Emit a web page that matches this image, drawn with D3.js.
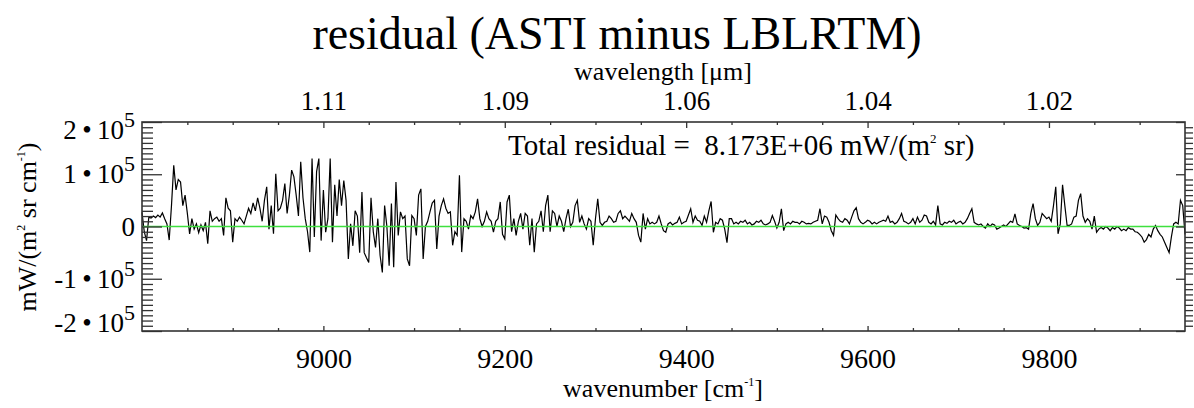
<!DOCTYPE html>
<html>
<head>
<meta charset="utf-8">
<script src="https://cdn.jsdelivr.net/npm/d3@7"></script>
<style>
body { margin: 0; background: #fff; }
</style>
</head>
<body>
<script>
// residual spectrum (ASTI minus LBLRTM), sampled every 2.5 cm-1 from 8800 cm-1
// values are in units of 1e3 mW/(m2 sr cm-1), read off the plot
const wnStart = 8800, wnStep = 2.5;
const residual = [
  27,-10,-27,18,16,20,17,22,18,26,15,5,-26,40,117,70,90,85,40,60,
  25,-14,15,-5,5,-12,3,-8,8,-33,30,10,15,18,10,15,-17,55,35,30,
  -30,15,10,18,12,5,20,35,25,45,30,55,35,10,50,76,-5,40,-14,101,
  30,35,50,82,25,60,108,95,60,20,124,55,15,-10,-49,130,-20,105,130,-27,
  70,-11,15,130,-30,80,20,90,40,88,50,-62,5,-37,30,20,-50,66,-50,-60,
  -69,55,-10,-40,15,-55,-88,40,0,-75,44,-78,85,-17,28,15,20,-62,-75,21,
  15,-17,60,72,-62,0,10,28,45,50,-43,20,40,53,35,25,28,-36,-10,-17,
  98,-49,15,10,-5,21,15,28,53,15,0,10,28,15,10,-11,10,15,47,-15,
  -24,47,60,-10,15,-17,10,25,-5,25,20,-36,15,-49,5,10,30,-10,40,60,
  -10,30,25,0,20,10,-10,15,33,0,8,40,50,8,20,5,-5,15,10,-36,
  15,53,8,2,8,10,20,15,8,10,25,30,15,20,15,10,25,15,8,-17,
  -30,25,-5,15,5,8,5,8,20,5,-8,-11,5,8,3,6,8,18,5,8,
  10,22,34,8,20,12,10,2,20,8,30,48,-11,8,5,15,12,-5,-31,15,
  15,5,8,5,10,8,12,5,8,3,5,10,8,12,5,3,5,8,21,10,
  -3,8,34,-8,5,8,5,10,8,8,5,10,8,5,6,5,8,10,12,34,
  5,20,18,8,-8,-17,22,15,10,8,15,12,5,18,30,36,15,8,5,8,
  12,10,5,8,5,8,10,12,10,20,8,10,5,8,15,25,10,8,5,8,
  15,5,18,8,12,22,20,8,5,10,3,40,5,3,8,6,10,8,12,5,
  8,10,5,8,15,25,34,8,5,3,5,0,-3,5,0,5,3,-5,-3,0,
  3,0,5,10,8,24,5,2,0,-3,-2,-5,25,44,15,2,8,25,20,15,
  18,10,40,76,-14,5,80,40,2,2,5,18,20,50,63,20,8,15,10,-5,
  20,-11,-5,-2,-5,0,-3,-8,-2,-5,0,-3,-8,-5,-8,-2,-5,-5,-10,-11,
  -15,-20,-30,-25,-15,-20,-5,2,-8,-15,-20,-30,-40,-50,-20,5,8,5,50,40,-15
];

const xTicks = [9000, 9200, 9400, 9600, 9800];
const xTickLabels = ["9000", "9200", "9400", "9600", "9800"];
const wlTickLabels = ["1.11", "1.09", "1.06", "1.04", "1.02"];
const yTicks = [-2e5, -1e5, 0, 1e5, 2e5];
const yTickBase = ["-2\u2009\u2022\u200910", "-1\u2009\u2022\u200910", "0", "1\u2009\u2022\u200910", "2\u2009\u2022\u200910"];
const yTickExp = ["5", "5", "", "5", "5"];
const totalResidual = "8.173E+06";

const width = 1194, height = 408;
const plotL = 142, plotR = 1185, plotT = 122, plotB = 331;
const serif = "'Liberation Serif', 'Times New Roman', Times, serif";

let svg = d3.select("body")
    .append("svg")
    .attr("width", width)
    .attr("height", height)
    .style("font-family", serif);

let x = d3.scaleLinear().domain([8800, 9950]).range([plotL, plotR]);
let y = d3.scaleLinear().domain([-2e5, 2e5]).range([plotB, plotT]);

let pts = residual.map((v, i) => [wnStart + i * wnStep, v * 1e3]);

// data
svg.append("path")
    .datum(pts)
    .attr("fill", "none")
    .attr("stroke", "#000")
    .attr("stroke-width", 1.2)
    .attr("d", d3.line().x(d => x(d[0])).y(d => y(d[1])));

// zero line
svg.append("line")
    .attr("x1", plotL).attr("x2", plotR)
    .attr("y1", y(0)).attr("y2", y(0))
    .attr("stroke", "#3fe03f")
    .attr("stroke-width", 1.5);

// axes (ticks point inward like IDL)
const minorX = d3.range(8850, 9950, 50).filter(d => !xTicks.includes(d));
const minorY = d3.range(-2e5, 2e5 + 1, 1e4).filter(d => !yTicks.includes(d));

function tickStyle(g) {
  g.attr("font-family", null).attr("font-size", null);
  g.select(".domain").remove();
  g.selectAll("line").attr("stroke", "#333").attr("stroke-width", 1.3);
  g.selectAll("text").attr("dy", null).attr("fill", "#000")
      .style("font-family", serif).attr("font-size", 28);
}

svg.append("g").attr("transform", `translate(0,${plotB})`)
    .call(d3.axisBottom(x).tickValues(minorX).tickSize(-3).tickFormat(""))
    .call(tickStyle);
svg.append("g").attr("transform", `translate(0,${plotB})`)
    .call(d3.axisBottom(x).tickValues(xTicks).tickSize(-5).tickFormat((d, i) => xTickLabels[i]))
    .call(tickStyle)
    .call(g => g.selectAll("text").attr("y", 37));

svg.append("g").attr("transform", `translate(0,${plotT})`)
    .call(d3.axisTop(x).tickValues(minorX).tickSize(-3).tickFormat(""))
    .call(tickStyle);
svg.append("g").attr("transform", `translate(0,${plotT})`)
    .call(d3.axisTop(x).tickValues(xTicks).tickSize(-6).tickFormat((d, i) => wlTickLabels[i]))
    .call(tickStyle)
    .call(g => g.selectAll("text").attr("y", -12).attr("font-size", 27));

svg.append("g").attr("transform", `translate(${plotL},0)`)
    .call(d3.axisLeft(y).tickValues(minorY).tickSize(-11).tickFormat(""))
    .call(tickStyle);
svg.append("g").attr("transform", `translate(${plotL},0)`)
    .call(d3.axisLeft(y).tickValues(yTicks).tickSize(-20).tickFormat(""))
    .call(tickStyle);

svg.append("g").attr("transform", `translate(${plotR},0)`)
    .call(d3.axisRight(y).tickValues(minorY).tickSize(8).tickFormat(""))
    .call(tickStyle);
svg.append("g").attr("transform", `translate(${plotR},0)`)
    .call(d3.axisRight(y).tickValues(yTicks).tickSize(-9).tickFormat(""))
    .call(tickStyle);

// frame
svg.append("rect")
    .attr("x", plotL).attr("y", plotT)
    .attr("width", plotR - plotL).attr("height", plotB - plotT)
    .attr("fill", "none")
    .attr("stroke", "#333")
    .attr("stroke-width", 1.6);

// y tick labels
let yl = svg.append("g").selectAll("text")
    .data(yTicks)
    .enter()
    .append("text")
    .attr("x", 135)
    .attr("y", (d, i) => y(d) + 9 + (i == yTicks.length - 1 ? 8 : i == 0 ? -8 : 0))
    .attr("text-anchor", "end")
    .attr("font-size", 27)
    .text((d, i) => yTickBase[i]);
yl.append("tspan")
    .attr("dy", -12)
    .attr("font-size", 22)
    .text((d, i) => yTickExp[i]);

// titles
svg.append("text")
    .attr("x", 617).attr("y", 49)
    .attr("text-anchor", "middle")
    .attr("font-size", 46)
    .text("residual (ASTI minus LBLRTM)");

svg.append("text")
    .attr("x", 663).attr("y", 80)
    .attr("text-anchor", "middle")
    .attr("font-size", 26)
    .text("wavelength [\u03bcm]");

let xt = svg.append("text")
    .attr("x", 663).attr("y", 397)
    .attr("text-anchor", "middle")
    .attr("font-size", 26)
    .text("wavenumber [cm");
xt.append("tspan").attr("dy", -11).attr("font-size", 12).text("-1");
xt.append("tspan").attr("dy", 11).text("]");

let yt = svg.append("text")
    .attr("transform", "translate(36,227) rotate(-90)")
    .attr("text-anchor", "middle")
    .attr("font-size", 26)
    .text("mW/(m");
yt.append("tspan").attr("dy", -11).attr("font-size", 12).text("2");
yt.append("tspan").attr("dy", 11).text(" sr cm");
yt.append("tspan").attr("dy", -11).attr("font-size", 12).text("-1");
yt.append("tspan").attr("dy", 11).text(")");

let tr = svg.append("text")
    .attr("x", 508).attr("y", 155)
    .attr("font-size", 29)
    .style("white-space", "pre")
    .text("Total residual =  " + totalResidual + " mW/(m");
tr.append("tspan").attr("dy", -12).attr("font-size", 13).text("2");
tr.append("tspan").attr("dy", 12).text(" sr)");
</script>
</body>
</html>
